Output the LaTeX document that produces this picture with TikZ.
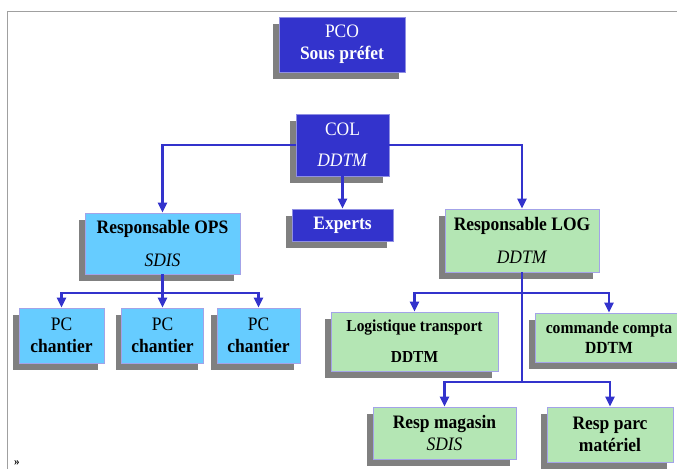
\documentclass[tikz,border=0pt]{standalone}
\usepackage{fontspec}
\setmainfont{Liberation Serif}[FakeStretch=0.92]
\usepackage{xcolor}
\usepackage{tikz}
\usetikzlibrary{arrows.meta,shadows,positioning}
\definecolor{chefblue}{HTML}{3333CC}
\definecolor{opsblue}{HTML}{66CCFF}
\definecolor{loggreen}{HTML}{B4E6B4}
\definecolor{shadowgray}{HTML}{808080}
\definecolor{framegray}{HTML}{A0A0A0}
\newcommand{\boxat}[4][]{\node[#1] (#2) at #3 {#4} ;}
\newcommand{\linkto}[2]{\draw[feed,->] (#1) -| (#2) ;}

\begin{document}
\begin{tikzpicture}[x=1pt,y=-1pt,>={Triangle[width=9pt,length=10pt]},
    orgbox/.style={rectangle,inner sep=0pt,align=center,
        font=\fontsize{19}{21}\selectfont,
        drop shadow={shadow xshift=-6pt,shadow yshift=-7pt,fill=shadowgray,opacity=1}},
    chef/.style={orgbox,fill=chefblue,draw=chefblue!55!white,line width=0.6pt,text=white},
    ops/.style={orgbox,fill=opsblue,draw=chefblue!45!white,line width=0.6pt},
    log/.style={orgbox,fill=loggreen,draw=chefblue!45!white,line width=0.6pt},
    feed/.style={draw=chefblue,line width=2.4pt}]
    \useasboundingbox (0,0) rectangle (677,469);
    \draw[framegray,line width=1pt] (677,11) -- (7,11) -- (7,469);
    \node (quote) at (17,463) {\fontsize{12}{12}\selectfont\textbf{»}};
    % top of the chain
    \boxat[chef,minimum width=126pt,minimum height=55pt]{pco}{(342,44.5)}{PCO\\[1pt]\textbf{Sous préfet}}
    \boxat[chef,minimum width=93pt,minimum height=62pt]{col}{(342.5,145)}{COL\\[10pt]\textit{DDTM}}
    \boxat[chef,minimum width=101pt,minimum height=32pt]{experts}{(342.5,225)}{\textbf{Experts}}
    \boxat[ops,minimum width=155pt,minimum height=61pt]{ops}{(162.5,243.5)}{\textbf{Responsable OPS}\\[12pt]\textit{SDIS}}
    \boxat[log,minimum width=154pt,minimum height=63pt]{logd}{(522,240.5)}{\textbf{Responsable LOG}\\[12pt]\textit{DDTM}}
    % OPS side
    \boxat[ops,minimum width=85pt,minimum height=55pt]{pc1}{(61.5,335.5)}{PC\\[1pt]\textbf{chantier}}
    \boxat[ops,minimum width=82pt,minimum height=55pt]{pc2}{(162.5,335.5)}{PC\\[1pt]\textbf{chantier}}
    \boxat[ops,minimum width=83pt,minimum height=55pt]{pc3}{(258.5,335.5)}{PC\\[1pt]\textbf{chantier}}
    % LOG side
    \boxat[log,minimum width=167pt,minimum height=59pt,font=\fontsize{16.8}{19}\selectfont]{logi}{(414.5,341.5)}{\textbf{Logistique transport}\\[12pt]\textbf{DDTM}}
    \boxat[log,minimum width=148pt,minimum height=49pt,font=\fontsize{17}{20}\selectfont]{cmd}{(609,337.5)}{\textbf{commande compta}\\\textbf{DDTM}}
    \boxat[log,minimum width=143pt,minimum height=52pt]{mag}{(444.5,433)}{\textbf{Resp magasin}\\[1pt]\textit{SDIS}}
    \boxat[log,minimum width=126pt,minimum height=55pt]{parc}{(610,434.5)}{\textbf{Resp parc}\\[1pt]\textbf{matériel}}
    % junctions
    \coordinate (opsbus) at (162.5,293);
    \coordinate (logbus) at (522,293);
    \coordinate (logbus2) at (522,382);
    % connectors
    \linkto{col.west}{ops.north}
    \linkto{col.east}{logd.north}
    \draw[feed,->] (col.south) -- (experts.north);
    \draw[feed] (ops.south) -- (opsbus);
    \linkto{opsbus}{pc1.north}
    \draw[feed,->] (opsbus) -- (pc2.north);
    \linkto{opsbus}{pc3.north}
    \draw[feed] (logd.south) -- (logbus2);
    \linkto{logbus}{logi.north}
    \linkto{logbus}{cmd.north}
    \linkto{logbus2}{mag.north}
    \linkto{logbus2}{parc.north}
\end{tikzpicture}
\end{document}
